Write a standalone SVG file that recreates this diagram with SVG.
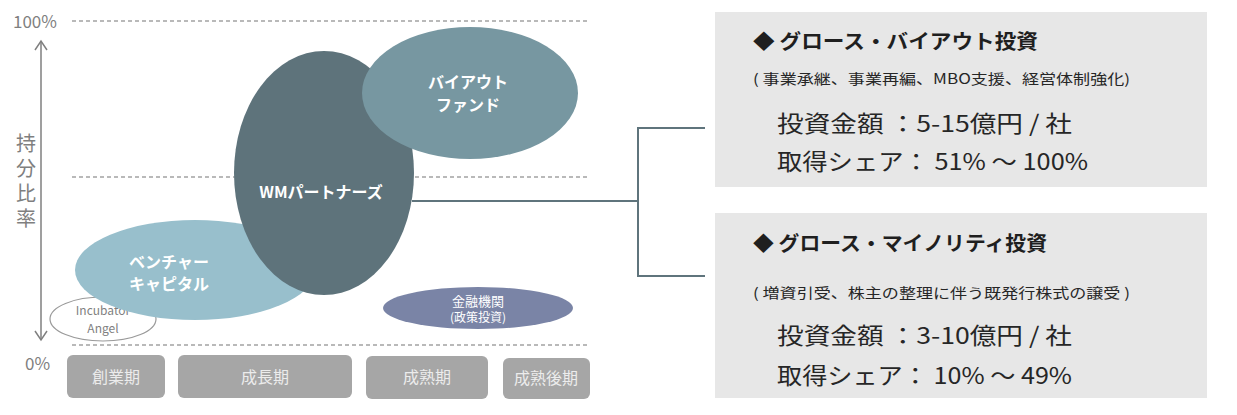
<svg xmlns="http://www.w3.org/2000/svg" width="1237" height="415" viewBox="0 0 1237 415">
<style>
text{font-family:"Noto Sans CJK JP","Noto Sans",sans-serif}
.axis{fill:#7f7f7f;font-size:17px}
.dash{stroke:#a3a3a3;stroke-width:1.5;stroke-dasharray:4 3;fill:none}
.lbl{fill:#ffffff;font-weight:bold;font-size:16px;text-anchor:middle}
.phase rect{fill:#a6a6a6}
.phase text{fill:#ececec;font-size:16px;text-anchor:middle}
.panel{fill:#e7e7e7}
.ttl{fill:#1f1f1f;font-weight:bold;font-size:20px}
.sub{fill:#262626;font-size:14px}
.big{fill:#262626;font-size:23px}
.conn{stroke:#5f747c;stroke-width:2;fill:none}
</style>
<rect width="1237" height="415" fill="#ffffff"/>
<g id="axis">
<line class="dash" x1="72" y1="21" x2="590" y2="21"/>
<line class="dash" x1="72" y1="177" x2="590" y2="177"/>
<line class="dash" x1="72" y1="345" x2="590" y2="345"/>
<text class="axis" x="13" y="28">100%</text>
<text class="axis" x="25" y="370">0%</text>
<line x1="41" y1="41" x2="41" y2="340" stroke="#7f7f7f" stroke-width="1.5"/>
<polyline points="35,50 41,41 47,50" fill="none" stroke="#7f7f7f" stroke-width="1.5"/>
<polyline points="35,331 41,340 47,331" fill="none" stroke="#7f7f7f" stroke-width="1.5"/>
<text class="axis" x="26" y="133" writing-mode="tb" style="font-size:20px;letter-spacing:5px">持分比率</text>
</g>
<g id="connectors">
<polyline class="conn" points="412,201 637,201"/>
<polyline class="conn" points="705,128 638,128 638,276 705,276"/>
</g>
<g id="incubator">
<ellipse cx="103" cy="319" rx="53" ry="22" fill="#ffffff" stroke="#9a9a9a" stroke-width="1.2"/>
<text x="103" y="315" fill="#7f7f7f" text-anchor="middle" style="font-size:12px">Incubator</text>
<text x="103" y="333" fill="#7f7f7f" text-anchor="middle" style="font-size:12px">Angel</text>
</g>
<g id="venture">
<ellipse cx="195" cy="270" rx="120" ry="50" fill="#98bfcc"/>
<text class="lbl" x="169" y="268">ベンチャー</text>
<text class="lbl" x="169" y="290">キャピタル</text>
</g>
<g id="wm">
<ellipse cx="324" cy="173" rx="90" ry="122" fill="#5e737b"/>
<text class="lbl" x="321" y="198">WMパートナーズ</text>
</g>
<g id="buyout">
<ellipse cx="470" cy="93" rx="108" ry="66" fill="#7797a1"/>
<text class="lbl" x="468" y="88">バイアウト</text>
<text class="lbl" x="468" y="111">ファンド</text>
</g>
<g id="finance">
<ellipse cx="478" cy="308" rx="95" ry="21" fill="#7a84a6"/>
<text x="478" y="306" fill="#ffffff" text-anchor="middle" style="font-size:13px">金融機関</text>
<text x="478" y="322" fill="#ffffff" text-anchor="middle" style="font-size:12px">(政策投資)</text>
</g>
<g id="phase1" class="phase"><rect x="67" y="355" width="98" height="43" rx="6"/><text x="116" y="383">創業期</text></g>
<g id="phase2" class="phase"><rect x="178" y="355" width="174" height="43" rx="6"/><text x="265" y="383">成長期</text></g>
<g id="phase3" class="phase"><rect x="366" y="356" width="122" height="43" rx="6"/><text x="427" y="383">成熟期</text></g>
<g id="phase4" class="phase"><rect x="503" y="358" width="87" height="41" rx="6"/><text x="546" y="384">成熟後期</text></g>
<g id="buyout-panel">
<rect class="panel" x="715" y="12" width="492" height="175"/>
<text class="ttl" x="753" y="49" textLength="285" lengthAdjust="spacingAndGlyphs">◆ グロース・バイアウト投資</text>
<text class="sub" x="753" y="84" textLength="377" lengthAdjust="spacingAndGlyphs">( 事業承継、事業再編、MBO支援、経営体制強化)</text>
<text class="big" x="777" y="132" textLength="295" lengthAdjust="spacingAndGlyphs">投資金額 ：5-15億円 / 社</text>
<text class="big" x="777" y="170" textLength="311" lengthAdjust="spacingAndGlyphs">取得シェア： 51% ～ 100%</text>
</g>
<g id="minority-panel">
<rect class="panel" x="715" y="213" width="492" height="185"/>
<text class="ttl" x="753" y="251" textLength="294" lengthAdjust="spacingAndGlyphs">◆ グロース・マイノリティ投資</text>
<text class="sub" x="753" y="298" textLength="377" lengthAdjust="spacingAndGlyphs">( 増資引受、株主の整理に伴う既発行株式の譲受 )</text>
<text class="big" x="777" y="344" textLength="295" lengthAdjust="spacingAndGlyphs">投資金額 ：3-10億円 / 社</text>
<text class="big" x="777" y="384" textLength="295" lengthAdjust="spacingAndGlyphs">取得シェア： 10% ～ 49%</text>
</g>
</svg>
